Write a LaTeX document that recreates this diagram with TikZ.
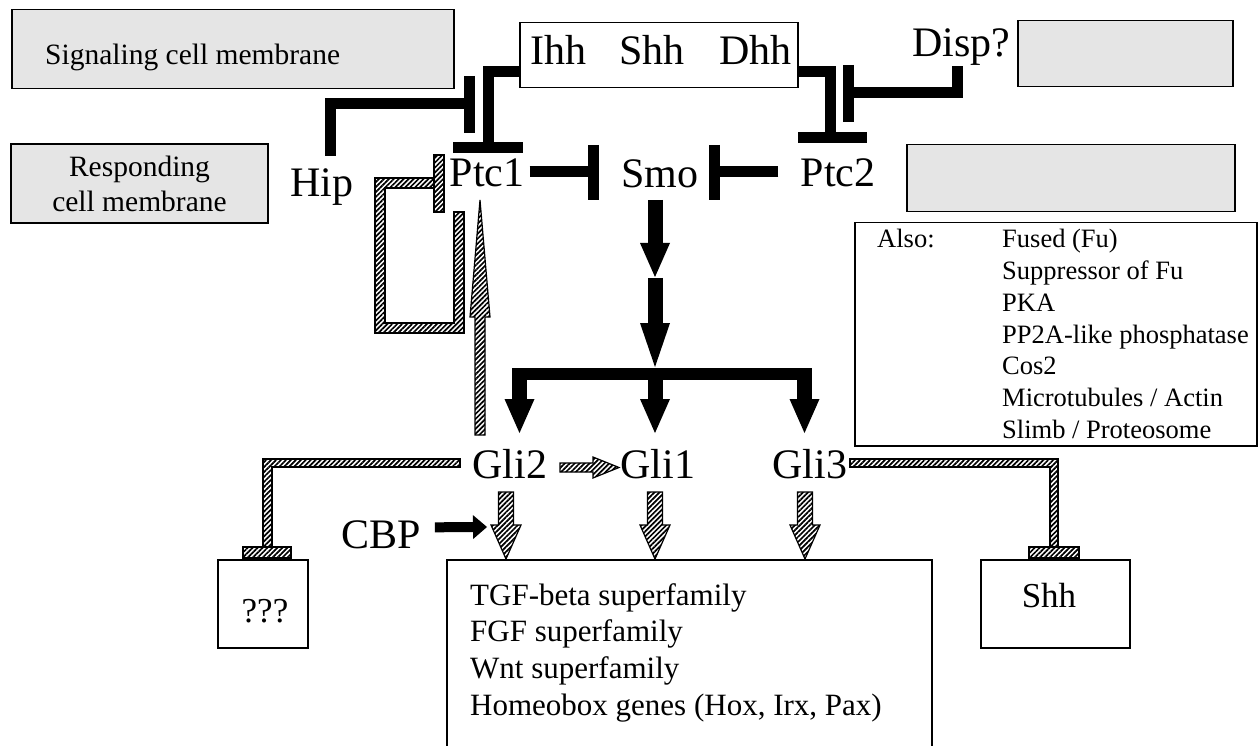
\documentclass[tikz,border=0pt]{standalone}
\usepackage{fontspec}
\setmainfont{Liberation Serif}
\usetikzlibrary{arrows.meta,patterns.meta}
\tikzset{
  biglbl/.style={font=\fontsize{42}{46}\selectfont, inner sep=0pt},
  boxlbl/.style={font=\fontsize{35}{40}\selectfont, inner sep=0pt},
  genelbl/.style={font=\fontsize{31}{36}\selectfont, inner sep=0pt},
  memlbl/.style={font=\fontsize{29.5}{35}\selectfont, inner sep=0pt},
  alsolbl/.style={font=\fontsize{26.5}{31}\selectfont, inner sep=0pt},
  membox/.style={draw, line width=1.5pt, fill=black!10, inner sep=0pt},
  plainbox/.style={draw, line width=1.5pt, inner sep=0pt},
  inhib/.style={line width=11pt},
  blkarrow/.style={line width=15pt, -{Triangle[width=30pt,length=34pt,line width=0pt]}},
  hatch/.style={draw, line width=1.2pt, pattern={Lines[angle=45,distance=3.5pt,line width=1.7pt]}}
}
\begin{document}
\begin{tikzpicture}[x=1pt,y=-1pt]
 \useasboundingbox (0,0) rectangle (1259,746);
 % membranes
 \node[membox, minimum width=442pt, minimum height=79pt, anchor=north west] (sigbox) at (11,9) {};
 \node[memlbl, anchor=base west] (sigtxt) at (45,65) {Signaling cell membrane};
 \node[membox, memlbl, align=center, minimum width=257pt, minimum height=79pt] (resbox) at (139.5,183.5) {Responding\\cell membrane};
 \node[membox, minimum width=215pt, minimum height=66pt, anchor=north west] (sigbox2) at (1017,20) {};
 \node[membox, minimum width=328pt, minimum height=67pt, anchor=north west] (resbox2) at (906,144) {};
 % ligands and receptors
 \node[plainbox, minimum width=278pt, minimum height=65pt, anchor=north west] (ligbox) at (519,22) {};
 \node[biglbl, anchor=base west] (ligs) at (530,65) {Ihh\hspace{33pt}Shh\hspace{35pt}Dhh};
 \node[biglbl, anchor=base] (hip) at (322,197) {Hip};
 \node[biglbl, anchor=base] (ptc1) at (487,187) {Ptc1};
 \node[biglbl, anchor=base] (smo) at (660,188) {Smo};
 \node[biglbl, anchor=base] (ptc2) at (838,187) {Ptc2};
 \node[biglbl, anchor=base] (disp) at (961,57) {Disp?};
 \node[biglbl, anchor=base] (gli2) at (510,478) {Gli2};
 \node[biglbl, anchor=base] (gli1) at (658,478) {Gli1};
 \node[biglbl, anchor=base] (gli3) at (810,478) {Gli3};
 \node[biglbl, anchor=base] (cbp) at (381,548) {CBP};
 % targets
 \node[plainbox, minimum width=90pt, minimum height=88pt, anchor=north west] (unkbox) at (217,559) {};
 \node[boxlbl, anchor=base] (unk) at (265,622) {???};
 \node[plainbox, minimum width=149pt, minimum height=88pt, anchor=north west] (shhbox) at (980,559) {};
 \node[boxlbl, anchor=base] (shh) at (1049,607) {Shh};
 \node[plainbox, minimum width=485pt, minimum height=200pt, anchor=north west] (genebox) at (446,559) {};
 \foreach \t [count=\i from 0] in {TGF-beta superfamily, FGF superfamily, Wnt superfamily, {Homeobox genes (Hox, Irx, Pax)}}
  \node[genelbl, anchor=base west] (gene\i) at (470,605+36.7*\i) {\t};
 \node[plainbox, minimum width=402pt, minimum height=223pt, anchor=north west] (alsobox) at (854,222) {};
 \node[alsolbl, anchor=base west] (also) at (877,248) {Also:};
 \foreach \t [count=\i from 0] in {Fused (Fu), Suppressor of Fu, PKA, PP2A-like phosphatase, Cos2, Microtubules / Actin, Slimb / Proteosome}
  \node[alsolbl, anchor=base west] (also\i) at (1002,248+31.7*\i) {\t};
 % inhibitions
 \coordinate (tptc1) at (488,148);
 \coordinate (tptc2) at (830,138);
 \coordinate (thip) at (469,104);
 \coordinate (tdisp) at (848,93);
 \coordinate (tsmo1) at (593,172);
 \coordinate (tsmo2) at (714,172);
 \draw[inhib] (ligbox.west) ++(0,16.5) -| (tptc1);
 \draw[inhib] (tptc1) +(-35,0) -- +(35,0);
 \draw[inhib] (ligbox.east) ++(0,16.5) -| (tptc2);
 \draw[inhib] (tptc2) +(-32,0) -- +(37,0);
 \draw[inhib] (hip.north) ++(8,-13) |- (thip);
 \draw[inhib] (thip) +(0,-28) -- +(0,29);
 \draw[inhib] (disp.south) ++(-4,0) |- (tdisp);
 \draw[inhib] (tdisp) +(0,-28) -- +(0,29);
 \draw[inhib] (tsmo1 -| ptc1.east) ++(5,0) -- (tsmo1);
 \draw[inhib] (tsmo1) +(0,-27) -- +(0,28);
 \draw[inhib] (tsmo2 -| ptc2.west) ++(-22,0) -- (tsmo2);
 \draw[inhib] (tsmo2) +(0,-27) -- +(0,28);
 % activations
 \coordinate (s0) at (655,200);
 \coordinate (s1) at (655,277);
 \coordinate (s2) at (655,367);
 \coordinate (cbptip) at (487,527);
 \draw[blkarrow] (s0) -- (s1);
 \draw[blkarrow, -{Triangle[width=30pt,length=44pt,line width=0pt]}] (s1) ++(0,1) -- (s2);
 \draw[line width=12pt] (512,374) -- (812,374);
 \foreach \x in {519.5,655,804.5}
  \draw[blkarrow] (\x,368) -- (\x,433);
 \draw[line width=10pt, -{Triangle[width=24pt,length=14pt,line width=0pt]}] (cbp.east) ++(14,-7) -- (cbptip);
 % hatched connectors
 \draw[hatch] (475,435) -- (475,317) -- (470,317) -- (480,200) -- (490,317) -- (485,317) -- (485,435) -- cycle;
 \draw[hatch] (454,212) -- (464,212) -- (464,333) -- (375,333) -- (375,178) -- (434,178) -- (434,188) -- (385,188) -- (385,323) -- (454,323) -- cycle;
 \draw[hatch] (434,155) rectangle (444,212);
 \draw[hatch] (560,463) -- (593,463) -- (593,457) -- (619,467.5) -- (593,478) -- (593,472) -- (560,472) -- cycle;
 \foreach \x in {506,655,805}
  \draw[hatch] (\x-7.5,492) -- (\x+7.5,492) -- (\x+7.5,525) -- (\x+15,525) -- (\x,559) -- (\x-15,525) -- (\x-7.5,525) -- cycle;
 \draw[hatch] (460,459) -- (263,459) -- (263,547) -- (272,547) -- (272,467) -- (460,467) -- cycle;
 \draw[hatch] (243,547) rectangle (291,558);
 \draw[hatch] (850,459) -- (1058,459) -- (1058,547) -- (1050,547) -- (1050,467) -- (850,467) -- cycle;
 \draw[hatch] (1029,547) rectangle (1079,558);
\end{tikzpicture}
\end{document}
